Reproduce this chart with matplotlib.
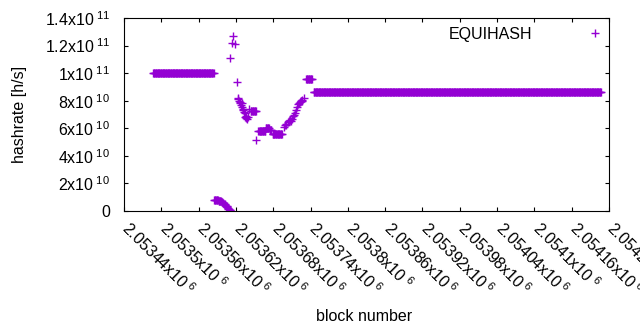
import numpy as np
import matplotlib
matplotlib.use("Agg")
import matplotlib.pyplot as plt
import matplotlib.transforms as mtransforms

plt.rcParams['font.family'] = ['Liberation Sans', 'DejaVu Sans']
plt.rcParams['mathtext.fontset'] = 'custom'
plt.rcParams['mathtext.rm'] = 'Liberation Sans'
plt.rcParams['mathtext.it'] = 'Liberation Sans:italic'

# runs of blocks where the estimate stays flat (first block, last block, h/s)
run_start = [2053487, 2053644, 2053656, 2053668, 2053674, 2053679, 2053733, 2053745]
run_end   = [2053584, 2053652, 2053667, 2053673, 2053677, 2053694, 2053742, 2054207]
run_value = [1.0e11, 7.28e10, 5.80e10, 6.00e10, 5.85e10, 5.62e10, 9.6e10, 8.65e10]

# collapse right after the first run
decay_blocks = list(range(2053585, 2053612))
decay_values = [8.0e9, 8.0e9, 7.9e9, 7.9e9, 7.8e9, 7.8e9, 7.7e9, 7.6e9, 7.5e9, 7.3e9,
                7.1e9, 6.9e9, 6.6e9, 6.3e9, 6.0e9, 5.6e9, 5.2e9, 4.8e9, 4.3e9,
                3.8e9, 3.3e9, 2.8e9, 2.3e9, 1.8e9, 1.3e9, 0.8e9, 0.4e9]

# scattered single blocks
point_blocks = [2053611, 2053614, 2053615, 2053618, 2053622, 2053623, 2053624, 2053625,
                2053626, 2053627, 2053628, 2053629, 2053630, 2053631, 2053632, 2053633,
                2053634, 2053635, 2053636, 2053637, 2053638, 2053639, 2053641, 2053653,
                2053697, 2053699, 2053700, 2053701, 2053704, 2053705, 2053706, 2053707,
                2053709, 2053710, 2053712, 2053714, 2053715, 2053717, 2053718, 2053720,
                2053721, 2053723, 2053724, 2053725, 2053726, 2053727, 2053729]
point_values = [11.13e10, 12.22e10, 12.66e10, 12.12e10, 9.35e10, 8.19e10, 8.10e10, 8.00e10,
                7.92e10, 7.82e10, 7.70e10, 7.85e10, 7.58e10, 7.42e10, 7.34e10, 7.20e10,
                7.09e10, 6.85e10, 6.92e10, 6.75e10, 6.68e10, 6.80e10, 7.40e10, 5.15e10,
                6.12e10, 6.27e10, 6.34e10, 6.27e10, 6.49e10, 6.52e10, 6.52e10, 6.63e10,
                6.52e10, 6.70e10, 6.87e10, 7.00e10, 7.12e10, 7.36e10, 7.58e10, 7.73e10,
                7.80e10, 7.90e10, 7.95e10, 7.98e10, 8.00e10, 8.04e10, 8.22e10]

xticks = [2053440 + 60 * i for i in range(14)]
xtick_labels = ['2.05344', '2.0535', '2.05356', '2.05362', '2.05368', '2.05374', '2.0538',
                '2.05386', '2.05392', '2.05398', '2.05404', '2.0541', '2.05416', '2.05422']
yticks = [0, 2e10, 4e10, 6e10, 8e10, 1e11, 1.2e11, 1.4e11]
ytick_labels = ['0', '2x10$^{\\ 10}$', '4x10$^{\\ 10}$', '6x10$^{\\ 10}$', '8x10$^{\\ 10}$',
                '1x10$^{\\ 11}$', '1.2x10$^{\\ 11}$', '1.4x10$^{\\ 11}$']

# build the full series
blocks, values = [], []
for s, e, v in zip(run_start, run_end, run_value):
    b = np.arange(s, e + 1)
    blocks.extend(b)
    values.extend([v] * len(b))
blocks.extend(decay_blocks); values.extend(decay_values)
blocks.extend(point_blocks); values.extend(point_values)

fig = plt.figure(figsize=(6.4, 3.3), dpi=100)
ax = fig.add_axes([124 / 640, 1 - 211 / 330, 485 / 640, 193 / 330])

ax.plot(blocks, values, linestyle='none', marker='+', color='#9400d3',
        markersize=5.5, markeredgewidth=1.0, label='EQUIHASH')

ax.set_xlim(2053440, 2054220)
ax.set_ylim(0, 1.4e11)
ax.set_xticks(xticks)
ax.set_xticklabels([l + 'x10$^{\\ 6}$' for l in xtick_labels], rotation=-45,
                   ha='left', va='top', rotation_mode='anchor')
ax.set_yticks(yticks)
ax.set_yticklabels(ytick_labels)
ax.tick_params(direction='in', top=True, right=True, length=3.2, width=0.8,
               labelsize=11.5, colors='black')
ax.tick_params(axis='y', pad=10)
ax.tick_params(axis='x', pad=8)
shift = mtransforms.ScaledTranslation(0.08, 0.04, fig.dpi_scale_trans)
for lab in ax.get_xticklabels():
    lab.set_transform(lab.get_transform() + shift)
for sp in ax.spines.values():
    sp.set_linewidth(0.8)

ax.set_ylabel('hashrate [h/s]', fontsize=11.5)
ax.set_xlabel('block number', fontsize=11.5)
ax.yaxis.set_label_coords(-0.2, 0.5)
ax.xaxis.set_label_coords(0.495, -0.51)

ax.legend(loc='upper right', markerfirst=False, frameon=False, fontsize=11.5,
          handlelength=1, handletextpad=3.4, borderpad=0, borderaxespad=0,
          bbox_to_anchor=(0.987, 0.955))

fig.savefig('out.png', dpi=100)
